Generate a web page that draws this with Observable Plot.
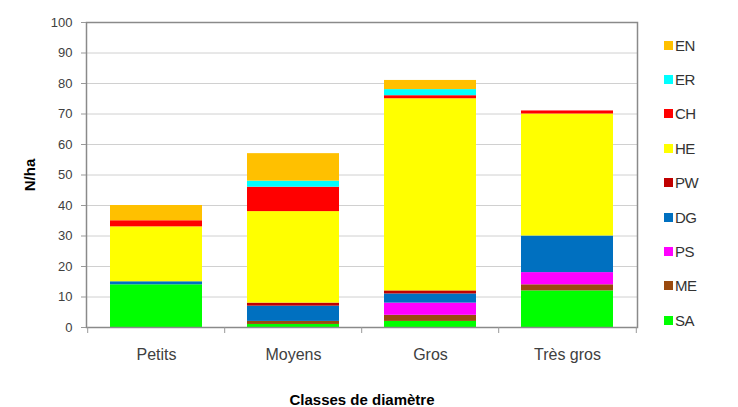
<!DOCTYPE html>
<html><head><meta charset="utf-8">
<script src="https://cdn.jsdelivr.net/npm/d3@7"></script>
<script src="https://cdn.jsdelivr.net/npm/@observablehq/plot@0.6"></script>
<style>
body{margin:0;background:#fff;font-family:"Liberation Sans",Arial,sans-serif;}
#wrap{position:relative;width:738px;height:407px;overflow:hidden;}
#legend{position:absolute;left:664px;top:36px;}
.li{position:absolute;left:0;height:18px;display:flex;align-items:center;font-size:15px;color:#333;letter-spacing:-0.5px;}
.sw{width:9px;height:9px;margin-right:2px;}
g[aria-label="x-axis label"] text, g[aria-label="y-axis label"] text{font-weight:bold;font-size:15px;fill:#000;}
</style>
</head><body><div id="wrap"></div>
<script>
const categories = ["Petits","Moyens","Gros","Très gros"];
const species = ["SA","ME","PS","DG","PW","HE","CH","ER","EN"];
const colors  = ["#00ff00","#9a4a0e","#ff00ff","#0070c0","#c00000","#ffff00","#ff0000","#00ffff","#ffc000"];
const SA = [14, 1, 2, 12];
const ME = [0, 1, 2, 2];
const PS = [0, 0, 4, 4];
const DG = [1, 5, 3, 12];
const PW = [0, 1, 1, 0];
const HE = [18, 30, 63, 40];
const CH = [2, 8, 1, 1];
const ER = [0, 2, 2, 0];
const EN = [5, 9, 3, 0];
const yTicks = [0,10,20,30,40,50,60,70,80,90,100];

const series = {SA, ME, PS, DG, PW, HE, CH, ER, EN};
const data = [];
categories.forEach((c, i) => species.forEach(s => data.push({cat: c, sp: s, v: series[s][i]})));

const chart = Plot.plot({
  width: 738, height: 407,
  marginLeft: 86, marginRight: 101, marginTop: 22, marginBottom: 80,
  style: {fontFamily: '"Liberation Sans", Arial, sans-serif', color: "#404040", background: "#fff"},
  x: {domain: categories, paddingInner: 0.33, paddingOuter: 0.165, label: null},
  y: {domain: [0, 100], ticks: yTicks, label: null},
  color: {domain: species, range: colors},
  marks: [
    Plot.gridY(yTicks, {stroke: "#d0d0d0", strokeOpacity: 1}),
    Plot.barY(data, {x: "cat", y: "v", fill: "sp", z: "sp", order: species}),
    Plot.frame({stroke: "#8a8a8a", strokeWidth: 1.5}),
    Plot.ruleX(categories, {x: d => d, dx: -68.8, insetTop: 305, insetBottom: -6, stroke: "#999"}),
    Plot.ruleX(categories.slice(-1), {x: d => d, dx: 68.8, insetTop: 305, insetBottom: -6, stroke: "#999"}),
    Plot.axisY(yTicks, {tickSize: 5, tickPadding: 9, fontSize: 13, stroke: "#999", label: "N/ha", labelAnchor: "center", labelArrow: "none", labelOffset: 62}),
    Plot.axisX({tickSize: 0, tickPadding: 21, fontSize: 16, label: "Classes de diamètre", labelAnchor: "center", labelArrow: "none", labelOffset: 77})
  ]
});
const wrap = document.getElementById("wrap");
wrap.appendChild(chart);
const lg = document.createElement("div");
lg.id = "legend";
species.slice().reverse().forEach((s, i) => {
  const it = document.createElement("div");
  it.className = "li";
  it.style.top = (i * 34.4) + "px";
  it.innerHTML = `<span class="sw" style="background:${colors[species.indexOf(s)]}"></span>${s}`;
  lg.appendChild(it);
});
wrap.appendChild(lg);
</script></body></html>
